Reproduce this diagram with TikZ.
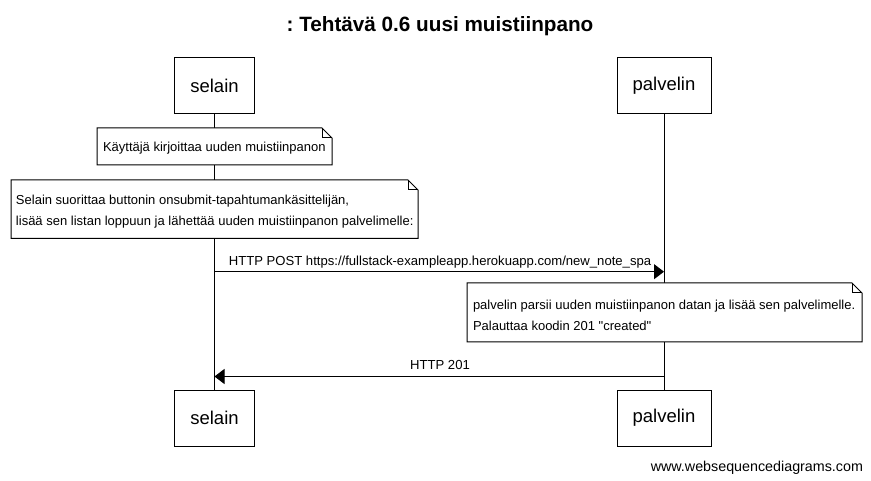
\documentclass[tikz,border=0pt]{standalone}
\usepackage{fontspec}
\setmainfont{Liberation Sans}
\usetikzlibrary{arrows.meta}
\frenchspacing
\begin{document}
\begin{tikzpicture}[x=1pt,y=-1pt,
  every node/.style={inner sep=0pt, outer sep=0pt},
  part/.style={draw, line width=1pt, fill=white, minimum height=56pt, font=\fontsize{18.5}{22}\selectfont},
  life/.style={line width=1pt},
  msg/.style={line width=1pt, -{Triangle[length=10pt,width=15pt]}},
  notebox/.style={draw=none, fill=none},
  noteline/.style={line width=1pt, line join=miter, fill=white},
  notetxt/.style={anchor=base west, font=\fontsize{13}{15}\selectfont},
  lbl/.style={anchor=base, font=\fontsize{13.1}{15}\selectfont}]
\useasboundingbox (0,0) rectangle (871,481);
\fill[white] (0,0) rectangle (871,481);

% title
\node[anchor=base, font=\bfseries\fontsize{20.7}{24}\selectfont] (title) at (440,31.7) {\frenchspacing : Tehtävä 0.6 uusi muistiinpano};

% participants
\node[part, minimum width=80.5pt] (s1) at (214.5,85.4) {selain};
\node[part, minimum width=94pt] (p1) at (664,85.4) {palvelin};
\node[part, minimum width=80.5pt] (s2) at (214.5,418) {selain};
\node[part, minimum width=94pt] (p2) at (664,418) {palvelin};

% lifelines
\draw[life] (s1.south) -- (s2.north);
\draw[life] (p1.south) -- (p2.north);

% note 1
\node[notebox, minimum width=235pt, minimum height=37pt] (n1) at (214.5,146.5) {};
\filldraw[noteline] (n1.north west) -- ([xshift=-10pt]n1.north east) -- ([yshift=-10pt]n1.north east) -- (n1.south east) -- (n1.south west) -- cycle;
\draw[line width=1pt] ([xshift=-10pt]n1.north east) -- ([xshift=-10pt,yshift=-10pt]n1.north east) -- ([yshift=-10pt]n1.north east);
\node[notetxt] (n1t) at (103,152) {Käyttäjä kirjoittaa uuden muistiinpanon};

% note 2
\node[notebox, minimum width=407pt, minimum height=58.5pt] (n2) at (214.5,209.25) {};
\filldraw[noteline] (n2.north west) -- ([xshift=-10pt]n2.north east) -- ([yshift=-10pt]n2.north east) -- (n2.south east) -- (n2.south west) -- cycle;
\draw[line width=1pt] ([xshift=-10pt]n2.north east) -- ([xshift=-10pt,yshift=-10pt]n2.north east) -- ([yshift=-10pt]n2.north east);
\node[notetxt] (n2t1) at (16,204.5) {Selain suorittaa buttonin onsubmit-tapahtumankäsittelijän,};
\node[notetxt] (n2t2) at (16,226) {lisää sen listan loppuun ja lähettää uuden muistiinpanon palvelimelle:};

% message 1
\coordinate (m1a) at (214.5,271.7);
\coordinate (m1b) at (664,271.7);
\draw[msg] (m1a) -- (m1b);
\node[lbl] (m1l) at (440,265.7) {HTTP POST https://fullstack-exampleapp.herokuapp.com/new\_note\_spa};

% note 3
\node[notebox, minimum width=395pt, minimum height=59pt] (n3) at (664.5,312.5) {};
\filldraw[noteline] (n3.north west) -- ([xshift=-10pt]n3.north east) -- ([yshift=-10pt]n3.north east) -- (n3.south east) -- (n3.south west) -- cycle;
\draw[line width=1pt] ([xshift=-10pt]n3.north east) -- ([xshift=-10pt,yshift=-10pt]n3.north east) -- ([yshift=-10pt]n3.north east);
\node[notetxt] (n3t1) at (473,309.5) {palvelin parsii uuden muistiinpanon datan ja lisää sen palvelimelle.};
\node[notetxt] (n3t2) at (473,330.5) {Palauttaa koodin 201 \textquotedbl created\textquotedbl};

% message 2
\coordinate (m2a) at (664,376.5);
\coordinate (m2b) at (214.5,376.5);
\draw[msg] (m2a) -- (m2b);
\node[lbl] (m2l) at (440,369.5) {HTTP 201};

% footer
\node[anchor=base east, font=\fontsize{14.3}{17}\selectfont] (wsd) at (863,471) {www.websequencediagrams.com};
\end{tikzpicture}
\end{document}
